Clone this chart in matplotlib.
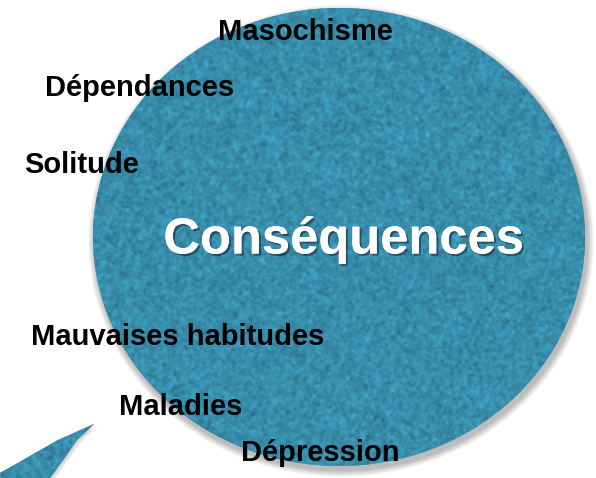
import numpy as np
import matplotlib
matplotlib.use('Agg')
import matplotlib.pyplot as plt
import matplotlib.patches as patches
import matplotlib.patheffects as pe

plt.rcParams['font.family'] = ['Liberation Sans', 'DejaVu Sans']

titre = 'Conséquences'
etiquettes = ['Masochisme', 'Dépendances', 'Solitude', 'Mauvaises habitudes', 'Maladies', 'Dépression']
# centre de chaque etiquette (pixels, origine en haut a gauche)
pos_x = [305, 140, 82, 178, 181, 320]
pos_y = [32, 88, 165, 337, 407, 453]

W, H = 596, 478
bleu = np.array([56, 141, 171]) / 255.

fig = plt.figure(figsize=(W / 100, H / 100), dpi=100)
ax = fig.add_axes([0, 0, 1, 1])
ax.set_xlim(0, W)
ax.set_ylim(H, 0)
ax.axis('off')

cx, cy, a, b = 339, 237, 246, 229

# ombre douce
for k in range(14, 0, -1):
    ax.add_patch(patches.Ellipse((cx + 2, cy + 4), 2 * a + k, 2 * b + k, color='k', alpha=0.018, lw=0, zorder=1))

bulle = patches.Ellipse((cx, cy), 2 * a, 2 * b, facecolor=bleu, lw=0, zorder=2)
ax.add_patch(bulle)
coins = np.array([(94, 424), (58, 440), (23, 460), (0, 473), (0, 478), (50, 478), (63, 460), (77, 440)])
queue = patches.Polygon(coins, closed=True, facecolor=bleu, lw=0, zorder=2)
for d in (1, 2, 3, 4):
    ax.add_patch(patches.Polygon(coins + [d, d * 0.7], closed=True, color='k', alpha=0.05, lw=0, zorder=1))
ax.add_patch(queue)

# texture granuleuse
rng = np.random.default_rng(3)
fin = rng.normal(0, 1, (H, W))
gros = rng.normal(0, 1, (H, W))
noyau = np.ones(3) / 3
lissage = lambda m: np.apply_along_axis(lambda c: np.convolve(c, noyau, 'same'), 0,
                                        np.apply_along_axis(lambda r: np.convolve(r, noyau, 'same'), 1, m))
fin = lissage(fin)
for _ in range(3):
    gros = lissage(gros)
fin /= fin.std()
gros /= gros.std()
bruit = 0.5 * fin + 0.8 * gros
img = np.clip(bleu[None, None, :] * (1 + 0.06 * bruit[:, :, None]), 0, 1)
for p in (bulle, queue):
    im = ax.imshow(img, extent=(0, W, H, 0), zorder=3, interpolation='bilinear')
    im.set_clip_path(p)
ax.set_xlim(0, W)
ax.set_ylim(H, 0)

ax.text(344, 240, titre, color='white', fontsize=36.5, fontweight='bold', ha='center', va='center', zorder=5,
        path_effects=[pe.withSimplePatchShadow(offset=(1.5, -1.5), shadow_rgbFace='k', alpha=0.4), pe.Normal()])

for t, x, y in zip(etiquettes, pos_x, pos_y):
    ax.text(x, y, t, color='black', fontsize=21, fontweight='bold', ha='center', va='center', zorder=5)

fig.savefig('out.png', dpi=100)
